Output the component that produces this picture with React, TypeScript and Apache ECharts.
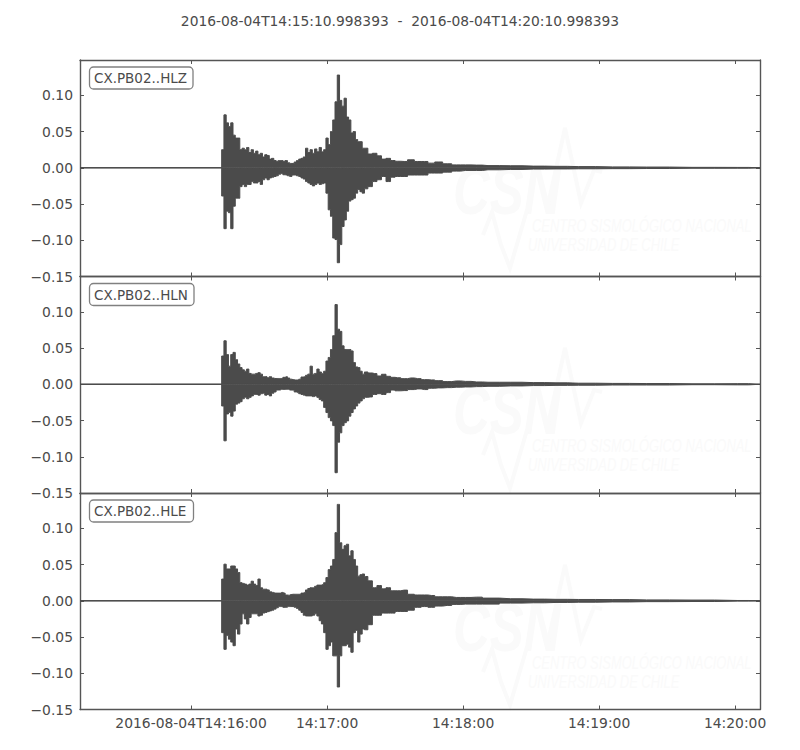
import React, { useEffect, useRef } from "react";
import * as echarts from "echarts";

const titleText = "2016-08-04T14:15:10.998393  -  2016-08-04T14:20:10.998393";
const channels = ["CX.PB02..HLZ", "CX.PB02..HLN", "CX.PB02..HLE"];

// Seconds after the window start, 2016-08-04T14:15:10.998393
const times = [
  0,
  62, 63, 64, 65, 66, 67, 68, 69, 70, 71,
  72, 73, 74, 75, 76, 77, 78, 79, 80, 81,
  82, 83, 84, 85, 86, 87, 88, 89, 90, 91,
  92, 93, 94, 95, 96, 97, 98, 99, 100, 101,
  102, 103, 104, 105, 106, 107, 108, 109, 110, 111,
  112, 113, 114, 115, 116, 117, 118, 119, 120, 121,
  122, 123, 124, 125,
  126, 128, 130, 132, 134, 136, 138, 140, 143, 146, 149, 152, 155, 158, 162, 166, 170, 175, 180, 190, 200,
  210, 220, 235, 250, 270, 290, 300,
];

const hlzUpper = [
  0,
  0, .025, .073, .062, .057, .062, .045, .041, .041, .025,
  .027, .025, .028, .021, .025, .020, .023, .018, .020, .015,
  .018, .017, .012, .013, .010, .009, .010, .010, .009, .010,
  .007, .006, .006, .008, .010, .012, .013, .015, .027, .021,
  .025, .020, .026, .022, .028, .022, .025, .041, .032, .050,
  .066, .091, .128, .093, .085, .096, .070, .066, .048, .050,
  .039, .036, .036, .027,
  .027, .019, .020, .0165, .012, .013, .010, .009, .0087, .011, .0087, .0087, .0064, .008, .0055, .004, .004, .0037, .003, .0028, .0023,
  .002, .0016, .0012, .001, .0006, .0005, 0,
];
const hlzLower = [
  0,
  0, -.039, -.084, -.060, -.062, -.084, -.053, -.042, -.042, -.026,
  -.023, -.026, -.023, -.023, -.019, -.021, -.021, -.019, -.023, -.0165,
  -.014, -.0165, -.014, -.013, -.012, -.011, -.009, -.008, -.0096, -.010,
  -.011, -.012, -.010, -.010, -.011, -.012, -.014, -.0156, -.019, -.021,
  -.023, -.025, -.023, -.021, -.023, -.022, -.021, -.035, -.058, -.067,
  -.097, -.099, -.131, -.106, -.081, -.072, -.060, -.046, -.044, -.042,
  -.035, -.030, -.033, -.035,
  -.029, -.026, -.019, -.0165, -.012, -.019, -.013, -.012, -.012, -.010, -.010, -.010, -.0073, -.0073, -.006, -.0046, -.0037, -.0037, -.0028, -.0023, -.0018,
  -.0016, -.0014, -.0012, -.001, -.0006, -.0005, 0,
];

const hlnUpper = [
  0,
  0, .039, .060, .041, .025, .041, .044, .034, .028, .023,
  .020, .018, .021, .015, .014, .014, .015, .016, .014, .0105,
  .0105, .009, .0105, .0087, .008, .008, .008, .008, .0096, .0105,
  .0087, .007, .0064, .006, .006, .007, .010, .0105, .0124, .014,
  .025, .014, .015, .021, .017, .015, .018, .032, .037, .048,
  .067, .110, .076, .073, .053, .048, .048, .048, .046, .030,
  .024, .023, .018, .014,
  .017, .0156, .0147, .0115, .0138, .011, .0096, .009, .0078, .0087, .0078, .0064, .006, .005, .0037, .0046, .004, .0032, .0028, .0028, .0023,
  .002, .0015, .0012, .001, .0006, .0008, 0,
];
const hlnLower = [
  0,
  0, -.030, -.078, -.041, -.039, -.044, -.037, -.0275, -.026, -.024,
  -.020, -.018, -.020, -.018, -.016, -.014, -.014, -.015, -.013, -.0124,
  -.015, -.014, -.016, -.0124, -.0106, -.008, -.008, -.007, -.007, -.007,
  -.007, -.008, -.008, -.0106, -.0115, -.013, -.014, -.015, -.016, -.016,
  -.016, -.017, -.016, -.018, -.021, -.023, -.032, -.039, -.046, -.0505,
  -.057, -.122, -.080, -.067, -.057, -.053, -.0505, -.044, -.039, -.034,
  -.030, -.026, -.023, -.020,
  -.018, -.0175, -.014, -.013, -.014, -.0115, -.008, -.009, -.0087, -.0073, -.0064, -.0073, -.0055, -.005, -.0046, -.004, -.0037, -.0032, -.0028, -.0023, -.0018,
  -.0015, -.0013, -.001, -.001, -.0006, -.0008, 0,
];

const hleUpper = [
  0,
  0, .030, .0505, .044, .044, .048, .048, .044, .039, .025,
  .024, .023, .0216, .023, .027, .023, .021, .030, .018, .016,
  .016, .015, .0124, .0115, .0106, .0106, .0106, .0115, .0106, .008,
  .0078, .0087, .009, .009, .009, .009, .0106, .0115, .015, .017,
  .018, .018, .020, .0216, .0216, .0225, .025, .032, .043, .048,
  .057, .094, .133, .080, .071, .076, .078, .062, .069, .057,
  .048, .034, .036, .037,
  .0335, .0275, .018, .021, .0165, .018, .0138, .0138, .0147, .009, .008, .008, .0073, .0055, .0055, .0046, .0046, .005, .0037, .0028, .0023,
  .002, .0018, .0016, .0012, .001, .0004, 0,
];
const hleLower = [
  0,
  0, -.044, -.067, -.048, -.053, -.057, -.062, -.039, -.046, -.032,
  -.018, -.025, -.032, -.023, -.018, -.018, -.018, -.021, -.020, -.017,
  -.016, -.015, -.014, -.013, -.0115, -.0096, -.008, -.008, -.009, -.009,
  -.008, -.008, -.008, -.009, -.0106, -.013, -.016, -.020, -.021, -.021,
  -.021, -.020, -.018, -.021, -.0275, -.032, -.044, -.067, -.062, -.057,
  -.076, -.076, -.119, -.076, -.062, -.062, -.060, -.064, -.071, -.044,
  -.041, -.057, -.046, -.039,
  -.040, -.033, -.020, -.020, -.017, -.017, -.017, -.0147, -.0147, -.013, -.009, -.008, -.009, -.0073, -.0064, -.005, -.0046, -.0046, -.0046, -.0032, -.0028,
  -.0023, -.002, -.0016, -.0012, -.001, -.0004, 0,
];

const uppers = [hlzUpper, hlnUpper, hleUpper];
const lowers = [hlzLower, hlnLower, hleLower];

const xTickValues = [49.002, 109.002, 169.002, 229.002, 289.002];
const xTickLabels = ["2016-08-04T14:16:00", "14:17:00", "14:18:00", "14:19:00", "14:20:00"];
const yTickLabels: Record<string, string> = {
  "0.10": "0.10", "0.05": "0.05", "0.00": "0.00",
  "-0.05": "\u22120.05", "-0.10": "\u22120.10", "-0.15": "\u22120.15",
};

const INK = "#4b4b4b";
const FRAME = "#555555";
const WATERMARK = "#fafafa";
const FONT = '"DejaVu Sans"';
const FONT_SIZE = 13.89;
const gridTops = [60, 276.5, 493];
const GRID_H = 216.5;
const watermarkOffsets = [0, 220, 437];
const labelBoxes = [
  { y: 67, w: 103.5 },
  { y: 283.5, w: 104.5 },
  { y: 500, w: 104 },
];

function nearestXLabel(v: number) {
  let best = 0;
  xTickValues.forEach((t, i) => {
    if (Math.abs(t - v) < Math.abs(xTickValues[best] - v)) best = i;
  });
  return xTickLabels[best];
}

function shift(points: number[][], dy: number) {
  return points.map(([x, y]) => [x, y + dy]);
}

function buildOption() {
  const grid: any[] = [];
  const xAxis: any[] = [];
  const yAxis: any[] = [];
  const series: any[] = [];
  const graphic: any[] = [];

  gridTops.forEach((top, i) => {
    grid.push({ left: 80, width: 680, top, height: GRID_H, containLabel: false });
    const line = { show: true, onZero: false, lineStyle: { color: FRAME, width: 1.4 } };
    const tick = { show: true, inside: true, length: 4, lineStyle: { color: FRAME, width: 1 } };
    ["bottom", "top"].forEach((position, k) => {
      xAxis.push({
        type: "value",
        gridIndex: i,
        position,
        min: 0,
        max: 300,
        axisLine: line,
        axisTick: { ...tick, customValues: xTickValues },
        axisLabel:
          i === 2 && k === 0
            ? {
                show: true,
                customValues: xTickValues,
                color: INK,
                fontFamily: FONT,
                fontSize: FONT_SIZE,
                margin: 6,
                formatter: (v: number) => nearestXLabel(v),
              }
            : { show: false },
        splitLine: { show: false },
      });
    });
    ["left", "right"].forEach((position, k) => {
      yAxis.push({
        type: "value",
        gridIndex: i,
        position,
        min: -0.15,
        max: 0.1487,
        interval: 0.05,
        axisLine: line,
        axisTick: tick,
        axisLabel:
          k === 0
            ? {
                show: true,
                color: INK,
                fontFamily: FONT,
                fontSize: FONT_SIZE,
                margin: 7,
                showMaxLabel: false,
                formatter: (v: number) => yTickLabels[v.toFixed(2)] ?? "",
              }
            : { show: false },
        splitLine: { show: false },
      });
    });

    [uppers[i], lowers[i]].forEach((values, s) => {
      series.push({
        type: "line",
        name: channels[i] + (s === 0 ? " max" : " min"),
        xAxisIndex: i * 2,
        yAxisIndex: i * 2,
        data: times.map((t, j) => [t, values[j]]),
        step: "middle",
        showSymbol: false,
        silent: true,
        lineStyle: { color: INK, width: 1 },
        areaStyle: { color: INK, opacity: 1 },
        z: 3,
      });
    });
    series.push({
      type: "line",
      name: channels[i] + " zero",
      xAxisIndex: i * 2,
      yAxisIndex: i * 2,
      data: times.map((t) => [t, 0]),
      showSymbol: false,
      silent: true,
      lineStyle: { color: INK, width: 1 },
      z: 4,
    });

    // Faint CSN watermark behind the trace
    const dy = watermarkOffsets[i];
    graphic.push(
      {
        type: "text", x: 453, y: 157 + dy, scaleX: 0.75, z: 0, silent: true,
        style: { text: "CSN", fill: WATERMARK, font: 'italic bold 68px "Liberation Sans"' },
      },
      {
        type: "polyline", z: 0, silent: true,
        shape: { points: shift([[548, 205], [565, 128], [581, 203], [594, 170], [602, 172]], dy) },
        style: { stroke: WATERMARK, lineWidth: 4, fill: "none" },
      },
      {
        type: "polyline", z: 0, silent: true,
        shape: { points: shift([[483, 235], [492, 212], [501, 245], [510, 268], [527, 210]], dy) },
        style: { stroke: WATERMARK, lineWidth: 4, fill: "none" },
      },
      {
        type: "text", x: 532, y: 215 + dy, scaleX: 0.68, z: 0, silent: true,
        style: { text: "CENTRO SISMOL\u00D3GICO NACIONAL", fill: WATERMARK, font: 'italic 19px "Liberation Sans"' },
      },
      {
        type: "text", x: 528, y: 234 + dy, scaleX: 0.68, z: 0, silent: true,
        style: { text: "UNIVERSIDAD DE CHILE", fill: WATERMARK, font: 'italic 19px "Liberation Sans"' },
      }
    );

    // Channel label
    const box = labelBoxes[i];
    graphic.push(
      {
        type: "rect", z: 10, silent: true,
        shape: { x: 89.5, y: box.y, width: box.w, height: 22, r: 4 },
        style: { fill: "#ffffff", stroke: "#808080", lineWidth: 1.3 },
      },
      {
        type: "text", x: 94, y: box.y + 11, z: 11, silent: true,
        style: { text: channels[i], fill: INK, font: `13.5px ${FONT}`, textVerticalAlign: "middle" },
      }
    );
  });

  return {
    animation: false,
    backgroundColor: "#ffffff",
    title: {
      text: titleText,
      left: 395,
      textAlign: "center",
      top: 9,
      textStyle: { color: INK, fontFamily: FONT, fontSize: 13.82, fontWeight: "normal" },
    },
    grid,
    xAxis,
    yAxis,
    series,
    graphic: { elements: graphic },
  };
}

export default function App() {
  const ref = useRef<HTMLDivElement>(null);
  useEffect(() => {
    if (!ref.current) return;
    const chart = echarts.init(ref.current, undefined, { renderer: "svg" });
    chart.setOption(buildOption() as any);
    return () => chart.dispose();
  }, []);
  return <div ref={ref} style={{ position: "fixed", left: 0, top: 0, width: 800, height: 750 }} />;
}
